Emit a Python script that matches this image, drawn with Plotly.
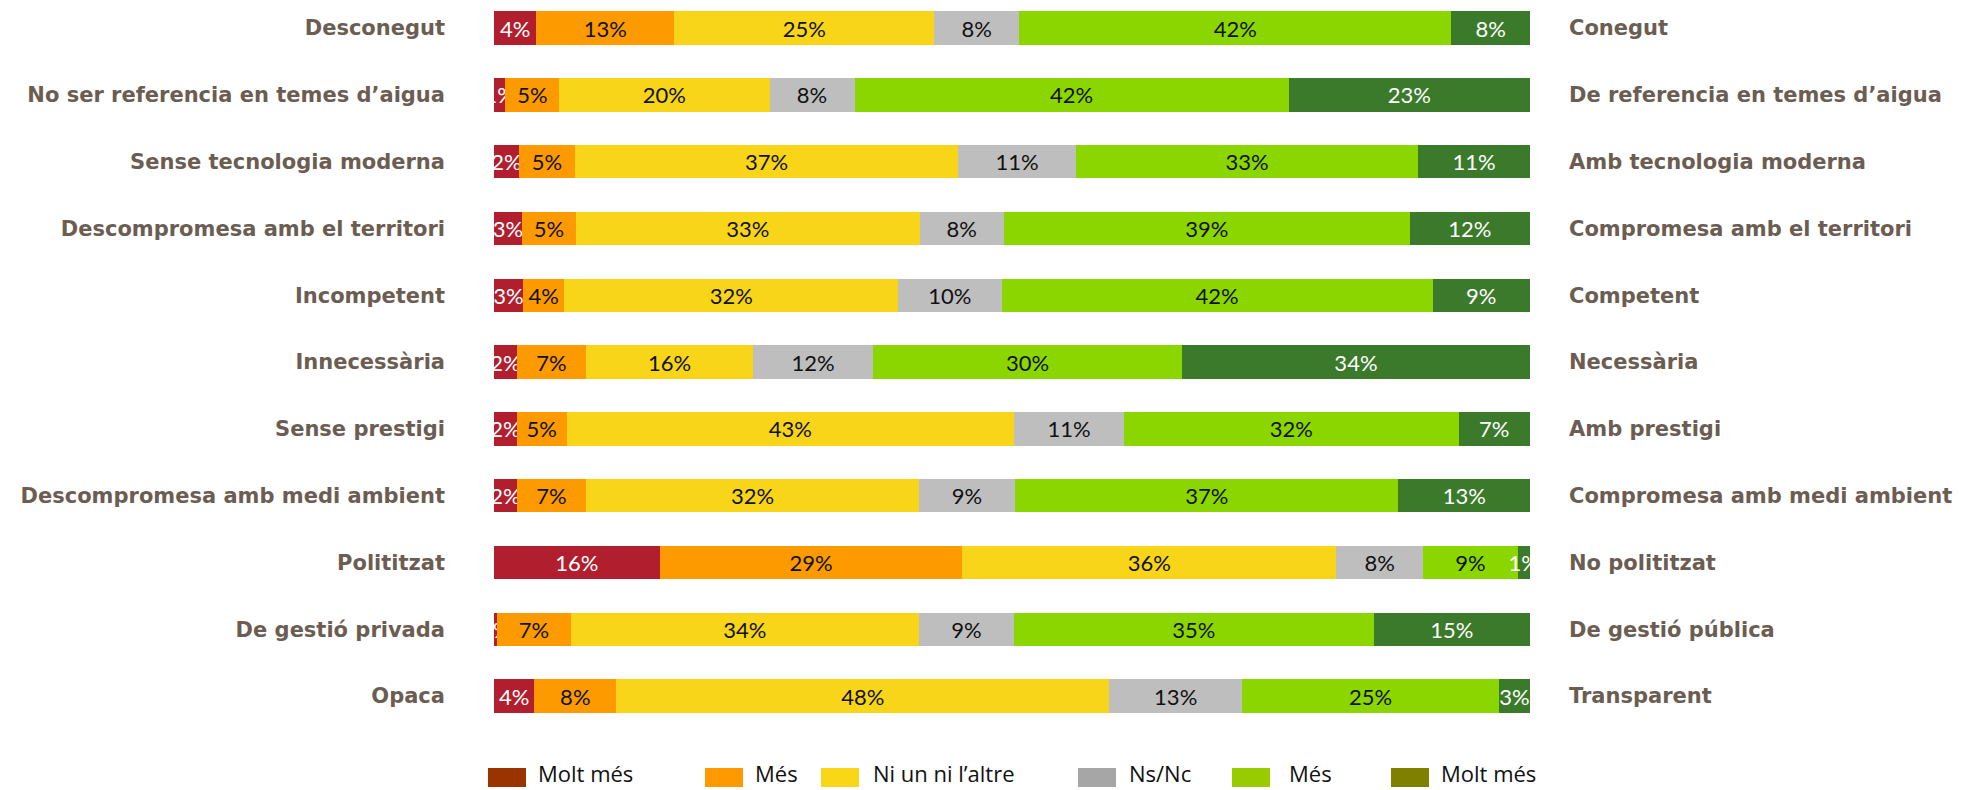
import plotly.graph_objects as go

# ---------------- data ----------------
left_labels = [
    "Desconegut",
    "No ser referencia en temes d’aigua",
    "Sense tecnologia moderna",
    "Descompromesa amb el territori",
    "Incompetent",
    "Innecessària",
    "Sense prestigi",
    "Descompromesa amb medi ambient",
    "Polititzat",
    "De gestió privada",
    "Opaca",
]
right_labels = [
    "Conegut",
    "De referencia en temes d’aigua",
    "Amb tecnologia moderna",
    "Compromesa amb el territori",
    "Competent",
    "Necessària",
    "Amb prestigi",
    "Compromesa amb medi ambient",
    "No polititzat",
    "De gestió pública",
    "Transparent",
]
series_names = ["Molt més", "Més", "Ni un ni l’altre", "Ns/Nc", "Més", "Molt més"]

molt_mes_neg = [4.1, 1.1, 2.4, 2.7, 2.8, 2.2, 2.2, 2.2, 16.0, 0.3, 3.9]
mes_neg = [13.3, 5.2, 5.4, 5.2, 4.0, 6.7, 4.8, 6.7, 29.2, 7.1, 7.9]
ni_un_ni_laltre = [25.1, 20.3, 37.0, 33.2, 32.2, 16.1, 43.2, 32.1, 36.1, 33.6, 47.6]
ns_nc = [8.2, 8.2, 11.4, 8.1, 10.0, 11.6, 10.6, 9.3, 8.4, 9.2, 12.8]
mes_pos = [41.7, 41.9, 33.0, 39.2, 41.6, 29.8, 32.3, 37.0, 9.1, 34.7, 24.8]
molt_mes_pos = [7.6, 23.3, 10.8, 11.6, 9.4, 33.6, 6.9, 12.7, 1.2, 15.1, 3.0]

series_values = [molt_mes_neg, mes_neg, ni_un_ni_laltre, ns_nc, mes_pos, molt_mes_pos]

# ---------------- styles ----------------
bar_colors = ["#B11F2F", "#FD9A00", "#F8D518", "#BEBEBE", "#8CD600", "#3B7A2A"]
text_colors = ["#FFFFFF", "#111111", "#111111", "#111111", "#111111", "#FFFFFF"]
legend_colors = ["#993300", "#FF9900", "#F9D616", "#A6A6A6", "#99CC00", "#808000"]
legend_square_px = [488, 705, 821, 1078, 1232, 1391]
legend_text_gap = [10, 10, 12, 11, 17, 10]

W, H = 1966, 790
L, R, T, B = 494, 436, 10, 70
PW = W - L - R
PH = H - T - B
row0_px, row_step = 28.0, 66.8
y_top = -(row0_px - T) / row_step
y_bot = 10 + ((H - B) - (row0_px + 10 * row_step)) / row_step

label_color = "#6B5D52"
label_font = dict(family="DejaVu Sans", size=21, color=label_color, weight="bold")

fig = go.Figure()
for name, vals, col, tcol in zip(series_names, series_values, bar_colors, text_colors):
    fig.add_trace(go.Bar(
        name=name,
        y=left_labels,
        x=vals,
        orientation="h",
        marker=dict(color=col, line=dict(width=0)),
        texttemplate="%{x:.0f}%",
        textposition="inside",
        insidetextanchor="middle",
        textangle=0,
        textfont=dict(family="Lato", size=22, color=tcol),
        cliponaxis=True,
        showlegend=False,
        hovertemplate="%{y}: %{x:.0f}%<extra>" + name + "</extra>",
    ))

# invisible helper trace so the right-hand category axis gets its categories
fig.add_trace(go.Scatter(
    x=molt_mes_pos, y=right_labels, yaxis="y2", mode="markers",
    marker=dict(opacity=0), hoverinfo="skip", showlegend=False,
))

def px_to_paper_x(px):
    return (px - L) / PW

def py_to_paper_y(py):
    return ((H - B) - py) / PH

shapes = []
annotations = []
for name, col, sx, gap in zip(series_names, legend_colors, legend_square_px, legend_text_gap):
    shapes.append(dict(
        type="rect", xref="paper", yref="paper",
        x0=px_to_paper_x(sx), x1=px_to_paper_x(sx + 38),
        y0=py_to_paper_y(787), y1=py_to_paper_y(768),
        fillcolor=col, line=dict(width=0),
    ))
    annotations.append(dict(
        text=name, xref="paper", yref="paper",
        x=px_to_paper_x(sx + 38 + gap), y=py_to_paper_y(773),
        xanchor="left", yanchor="middle", showarrow=False,
        font=dict(family="Open Sans", size=22, color="#111111"),
    ))

fig.update_layout(
    width=W, height=H,
    barmode="stack", bargap=0.5,
    plot_bgcolor="white", paper_bgcolor="white",
    margin=dict(l=L, r=R, t=T, b=B, autoexpand=False),
    showlegend=False,
    uniformtext=dict(minsize=22, mode="show"),
    xaxis=dict(range=[0, 100], visible=False, showgrid=False, zeroline=False),
    yaxis=dict(
        type="category", categoryorder="array", categoryarray=left_labels,
        range=[y_bot, y_top], ticks="", showgrid=False, showline=False, zeroline=False,
        tickfont=label_font, ticklabelstandoff=48,
    ),
    yaxis2=dict(
        type="category", categoryorder="array", categoryarray=right_labels,
        overlaying="y", side="right",
        range=[y_bot, y_top], ticks="", showgrid=False, showline=False, zeroline=False,
        tickfont=label_font, ticklabelstandoff=38,
    ),
    shapes=shapes,
    annotations=annotations,
)

fig.write_html(
    "out.html",
    config={"displayModeBar": False},
    post_script="document.body.style.margin='0';document.body.style.overflow='hidden';",
)
